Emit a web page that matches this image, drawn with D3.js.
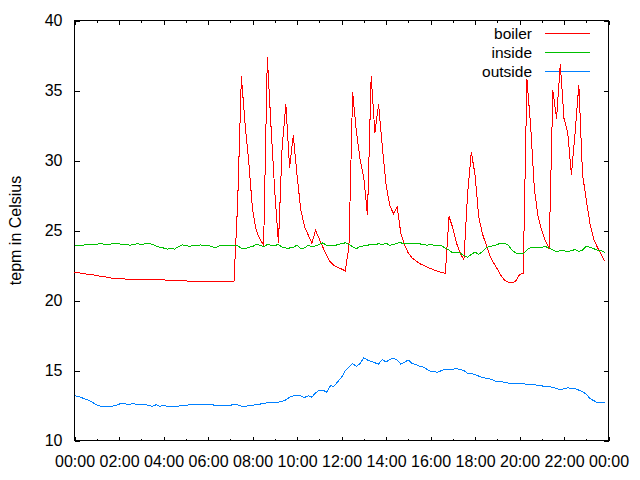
<!DOCTYPE html>
<html>
<head>
<meta charset="utf-8">
<script src="https://cdn.jsdelivr.net/npm/d3@7"></script>
<style>
  html, body { margin: 0; padding: 0; background: #fff; }
  svg { display: block; }
  text { font-family: "Liberation Sans", Arial, sans-serif; font-size: 15.5px; fill: #000; }
</style>
</head>
<body>
<svg id="chart" width="640" height="480"></svg>
<script>
// ---- data (10-minute samples, 00:00 .. 23:50) ----
const sampleMinutes = 10;
const xTickLabels = ["00:00","02:00","04:00","06:00","08:00","10:00","12:00","14:00","16:00","18:00","20:00","22:00","00:00"];
const yTicks = [10, 15, 20, 25, 30, 35, 40];
const seriesNames = ["boiler", "inside", "outside"];
const seriesColors = ["#ff0000", "#00c000", "#0080ff"];
const yLabel = "tepm in Celsius";

const boiler = [
  22.0, 21.98, 21.95, 21.9, 21.85, 21.83, 21.78, 21.72, 21.7, 21.65, 21.6, 21.57,
  21.55, 21.55, 21.52, 21.5, 21.48, 21.48, 21.48, 21.48, 21.48, 21.48, 21.5, 21.52,
  21.48, 21.45, 21.43, 21.4, 21.4, 21.4, 21.4, 21.38, 21.38, 21.38, 21.36, 21.36,
  21.35, 21.33, 21.33, 21.33, 21.33, 21.33, 21.33, 21.33, 27.0, 36.0, 32.6, 29.9,
  26.5, 25.0, 24.4, 23.95, 37.4, 32.4, 27.8, 24.1, 31.0, 34.0, 29.5, 31.8,
  29.0, 26.5, 25.3, 24.7, 24.1, 25.0, 24.4, 23.8, 23.2, 22.75, 22.5, 22.35,
  22.25, 22.12, 23.8, 34.9, 32.1, 30.1, 28.8, 26.1, 36.0, 32.0, 34.0, 31.0,
  28.3, 26.8, 26.2, 26.7, 24.8, 23.95, 23.4, 23.05, 22.85, 22.65, 22.52, 22.4,
  22.28, 22.18, 22.08, 22.0, 21.95, 26.0, 25.2, 24.1, 23.4, 22.9, 27.6, 30.6,
  29.0, 26.0, 24.76, 24.0, 23.2, 22.7, 22.25, 21.8, 21.45, 21.3, 21.25, 21.4,
  21.85, 21.95, 35.8, 32.5, 28.0, 26.0, 25.0, 24.25, 23.7, 35.0, 33.0, 36.9,
  33.0, 32.0, 29.0, 32.0, 35.4, 29.0, 27.2, 25.5, 24.4, 23.8, 23.3, 22.8
];
const inside = [
  23.95, 23.95, 23.95, 23.97, 24.0, 23.97, 24.0, 24.1, 24.0, 23.97, 24.05, 24.05,
  24.05, 24.0, 24.0, 23.95, 24.0, 24.05, 24.0, 24.05, 24.1, 24.0, 23.9, 23.8,
  23.75, 23.67, 23.75, 23.67, 23.85, 23.97, 23.95, 23.85, 23.93, 23.93, 23.97, 23.9,
  23.93, 23.85, 23.78, 23.9, 23.93, 23.93, 23.9, 23.93, 23.9, 23.75, 23.68, 23.8,
  23.85, 24.0, 23.95, 23.85, 24.0, 23.95, 23.93, 24.0, 23.8, 23.75, 23.75, 23.8,
  23.95, 23.7, 23.75, 23.95, 23.85, 23.9, 24.0, 24.12, 23.93, 23.93, 23.9, 24.0,
  24.05, 24.12, 24.0, 23.85, 23.7, 23.85, 23.9, 23.95, 24.0, 24.0, 24.05, 24.0,
  24.1, 23.95, 24.0, 24.1, 24.12, 24.05, 24.05, 24.05, 24.07, 24.05, 24.0, 23.95,
  24.0, 23.95, 23.95, 23.9, 23.75, 23.6, 23.4, 23.45, 23.4, 23.2, 23.1, 23.3,
  23.45, 23.3, 23.5, 23.75, 23.88, 23.9, 24.0, 24.1, 24.1, 23.95, 23.6, 23.4,
  23.33, 23.33, 23.6, 23.8, 23.8, 23.75, 23.8, 23.85, 23.75, 23.6, 23.5, 23.55,
  23.55, 23.5, 23.55, 23.65, 23.5, 23.6, 23.88, 23.8, 23.7, 23.6, 23.55, 23.45
];
const outside = [
  13.2, 13.15, 13.05, 12.95, 12.85, 12.7, 12.55, 12.45, 12.45, 12.4, 12.45, 12.5,
  12.6, 12.65, 12.6, 12.6, 12.62, 12.57, 12.57, 12.57, 12.5, 12.45, 12.55, 12.45,
  12.5, 12.45, 12.45, 12.45, 12.45, 12.5, 12.5, 12.55, 12.6, 12.55, 12.57, 12.57,
  12.57, 12.57, 12.5, 12.5, 12.5, 12.5, 12.5, 12.6, 12.55, 12.45, 12.43, 12.5,
  12.5, 12.57, 12.6, 12.64, 12.7, 12.74, 12.74, 12.74, 12.8, 12.9, 13.1, 13.19,
  13.19, 13.19, 13.07, 13.19, 13.1, 13.4, 13.6, 13.6, 13.45, 13.9, 13.88, 14.2,
  14.5, 15.0, 15.25, 15.5, 15.3, 15.5, 15.9, 15.75, 15.65, 15.55, 15.45, 15.8,
  15.6, 15.8, 15.88, 15.75, 15.45, 15.6, 15.75, 15.5, 15.43, 15.3, 15.25, 15.1,
  14.93, 14.9, 14.88, 15.0, 15.08, 15.05, 15.1, 15.12, 15.08, 15.0, 14.8, 14.8,
  14.7, 14.6, 14.5, 14.45, 14.4, 14.3, 14.2, 14.2, 14.15, 14.1, 14.07, 14.06,
  14.05, 14.05, 14.02, 14.0, 13.98, 13.95, 13.9, 13.86, 13.84, 13.8, 13.7, 13.64,
  13.7, 13.76, 13.72, 13.7, 13.6, 13.5, 13.3, 13.0, 12.85, 12.7, 12.7, 12.71
];

// ---- layout ----
const svg = d3.select("#chart");
const plotLeft = 74.5, plotRight = 608.5, plotTop = 20.5, plotBottom = 440.5;

const x = d3.scaleLinear().domain([0, 24]).range([plotLeft, plotRight]);
const y = d3.scaleLinear().domain([10, 40]).range([plotBottom, plotTop]);

const hours = d3.range(boiler.length).map(i => i * sampleMinutes / 60);
const allSeries = [boiler, inside, outside];

// ---- axes ----
const xMajor = d3.range(0, 25, 2);
const xMinor = d3.range(1, 24, 2);
const tickFont = '"Liberation Sans", Arial, sans-serif';

const gx = svg.append("g").attr("transform", `translate(0,${plotBottom})`)
  .call(d3.axisBottom(x).tickValues(xMajor).tickSize(-4)
        .tickFormat((d, i) => xTickLabels[i]));
gx.append("g").call(d3.axisBottom(x).tickValues(xMinor).tickSize(-2).tickFormat(""));

const gxt = svg.append("g").attr("transform", `translate(0,${plotTop})`)
  .call(d3.axisTop(x).tickValues(xMajor).tickSize(-4).tickFormat(""));
gxt.append("g").call(d3.axisTop(x).tickValues(xMinor).tickSize(-2).tickFormat(""));

const gy = svg.append("g").attr("transform", `translate(${plotLeft},0)`)
  .call(d3.axisLeft(y).tickValues(yTicks).tickSize(-5).tickPadding(12).tickFormat(d3.format("d")));
const gyr = svg.append("g").attr("transform", `translate(${plotRight},0)`)
  .call(d3.axisRight(y).tickValues(yTicks).tickSize(-5).tickFormat(""));

svg.selectAll(".domain").remove();
svg.selectAll(".tick line").attr("stroke", "#000").attr("shape-rendering", "crispEdges");
svg.selectAll(".tick text").style("font-family", tickFont).style("font-size", "16px");
gx.selectAll(".tick text").attr("dy", "0.35em").attr("y", 20.5);

// border
svg.append("rect")
  .attr("x", plotLeft).attr("y", plotTop)
  .attr("width", plotRight - plotLeft).attr("height", plotBottom - plotTop)
  .attr("fill", "none").attr("stroke", "#000").attr("stroke-width", 1)
  .attr("shape-rendering", "crispEdges");

// y axis label
svg.append("text")
  .attr("transform", `translate(15,${(plotTop + plotBottom) / 2}) rotate(-90)`)
  .attr("text-anchor", "middle")
  .attr("dy", "0.35em")
  .style("font-size", "16px")
  .text(yLabel);

// ---- legend ----
const legend = svg.append("g");
seriesNames.forEach((name, k) => {
  const ly = 33.5 + k * 19;
  legend.append("text")
    .attr("x", 532).attr("y", ly).attr("dy", "0.35em")
    .attr("text-anchor", "end").text(name);
  legend.append("line")
    .attr("x1", 545).attr("x2", 590).attr("y1", ly).attr("y2", ly)
    .attr("stroke", seriesColors[k]).attr("stroke-width", 1)
    .attr("shape-rendering", "crispEdges");
});

// ---- lines ----
const line = d3.line().x((d, i) => x(hours[i])).y(d => y(d));
allSeries.forEach((s, k) => {
  svg.append("path")
    .datum(s)
    .attr("d", line)
    .attr("fill", "none")
    .attr("stroke", seriesColors[k])
    .attr("stroke-width", 1)
    .attr("shape-rendering", "crispEdges");
});
</script>
</body>
</html>
